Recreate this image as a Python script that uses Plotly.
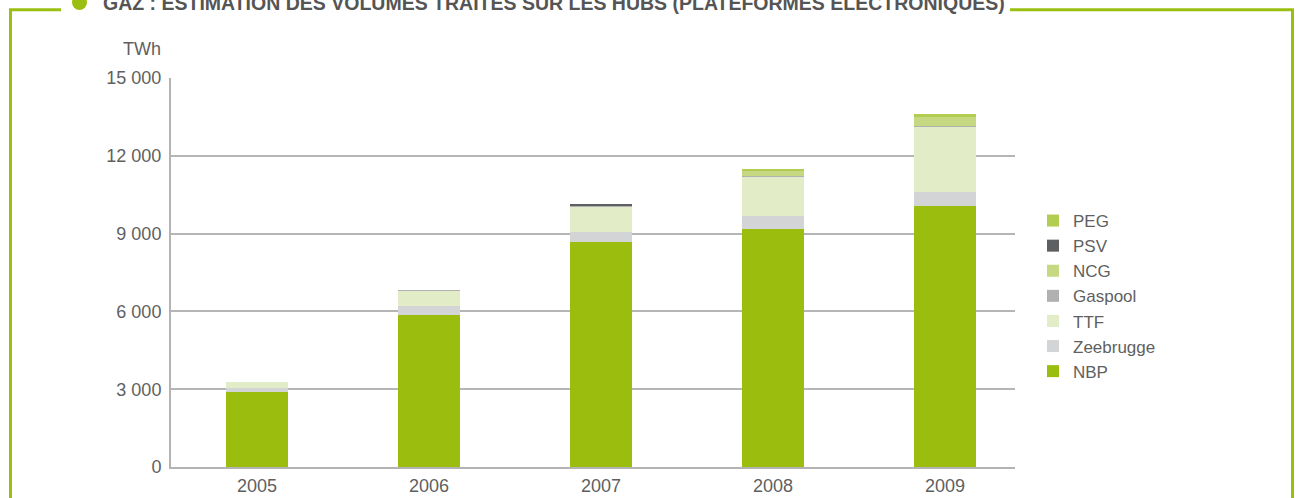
import plotly.graph_objects as go

years = ["2005", "2006", "2007", "2008", "2009"]

# TWh per hub (bottom to top of the stack)
nbp = [2900, 5860, 8690, 9180, 10065]
zeebrugge = [150, 350, 375, 500, 540]
ttf = [220, 590, 975, 1530, 2520]
gaspool = [0, 20, 25, 30, 40]
ncg = [0, 0, 0, 175, 350]
psv = [0, 0, 40, 0, 0]
peg = [0, 0, 0, 80, 100]

series = [
    ("NBP", nbp, "#9bbe0e"),
    ("Zeebrugge", zeebrugge, "#d3d4d6"),
    ("TTF", ttf, "#e2ecc7"),
    ("Gaspool", gaspool, "#b0b1b3"),
    ("NCG", ncg, "#c6d982"),
    ("PSV", psv, "#5e5f61"),
    ("PEG", peg, "#b3cd50"),
]

y_ticks = [0, 3000, 6000, 9000, 12000, 15000]
y_tick_text = ["0", "3 000", "6 000", "9 000", "12 000", "15 000"]

W, H = 1297, 498
L, R, T, B = 171, 1015, 78, 467
GREEN = "#9bbf10"
FONT = "Liberation Sans, Arial, sans-serif"
GREY_TXT = "#5f5f5f"


def px(x):
    return (x - L) / (R - L)


def py(y):
    return (B - y) / (B - T)


fig = go.Figure()
for name, vals, color in series:
    fig.add_trace(go.Bar(
        x=years, y=vals, name=name,
        marker=dict(color=color, line=dict(width=0)),
        width=0.355,
    ))

fig.update_layout(
    barmode="stack",
    width=W, height=H,
    margin=dict(l=L, r=W - R, t=T, b=H - B, autoexpand=False),
    paper_bgcolor="white",
    plot_bgcolor="white",
    font=dict(family=FONT, size=18, color=GREY_TXT),
    showlegend=True,
    legend=dict(
        traceorder="reversed",
        xref="container", yref="container",
        x=1033 / W, y=1 - 203 / H,
        xanchor="left", yanchor="top",
        font=dict(size=17, color=GREY_TXT),
        itemwidth=30,
        tracegroupgap=0,
        bgcolor="rgba(0,0,0,0)",
    ),
    xaxis=dict(
        type="category",
        range=[-0.5, 4.407],
        automargin=False,
        showgrid=False,
        showline=True, linecolor="#b3b3b3", linewidth=2,
        ticks="", ticklabelstandoff=1,
        tickfont=dict(size=18, color=GREY_TXT),
    ),
    yaxis=dict(
        range=[0, 15000],
        automargin=False,
        tickvals=y_ticks, ticktext=y_tick_text,
        showgrid=True, gridcolor="#b5b5b5", gridwidth=1.5,
        showline=True, linecolor="#b3b3b3", linewidth=2,
        zeroline=False,
        ticks="", ticklabelstandoff=4,
        tickfont=dict(size=18, color=GREY_TXT),
    ),
)

# unit label
fig.add_annotation(
    text="TWh", xref="paper", yref="paper",
    x=px(163), y=py(49), xanchor="right", yanchor="middle",
    showarrow=False, font=dict(size=18, color=GREY_TXT),
)

# title, slightly cut by the top edge as in the source
fig.add_annotation(
    text="<b>GAZ : ESTIMATION DES VOLUMES TRAITÉS SUR LES HUBS (PLATEFORMES ÉLECTRONIQUES)</b>",
    xref="paper", yref="paper",
    x=px(101), y=py(3), xanchor="left", yanchor="middle",
    showarrow=False, font=dict(size=19.5, color="#555555"),
)

# green frame around the chart
frame = [
    (10.5, 9.7, 10.5, 520),
    (9, 9.7, 61, 9.7),
    (1010, 9.7, 1294, 9.7),
    (1292.5, 9.7, 1292.5, 520),
]
for x0, y0, x1, y1 in frame:
    fig.add_shape(type="line", xref="paper", yref="paper",
                  x0=px(x0), y0=py(y0), x1=px(x1), y1=py(y1),
                  line=dict(color=GREEN, width=3))

fig.add_shape(type="circle", xref="paper", yref="paper",
              x0=px(72), x1=px(87), y0=py(-5), y1=py(10),
              fillcolor=GREEN, line=dict(width=0))

fig.write_html("out.html", config={"displayModeBar": False},
               post_script="document.body.style.margin='0';")
